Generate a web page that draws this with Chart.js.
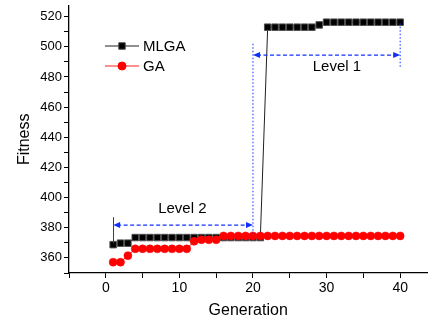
<!DOCTYPE html>
<html>
<head>
<meta charset="utf-8">
<script src="https://cdn.jsdelivr.net/npm/chart.js@4/dist/chart.umd.min.js"></script>
<style>
  html, body { margin: 0; padding: 0; background: #fff; }
</style>
</head>
<body>
<canvas id="myChart" width="433" height="322"></canvas>
<script>
// data
const generations = [1, 2, 3, 4, 5, 6, 7, 8, 9, 10, 11, 12, 13, 14, 15, 16, 17, 18, 19, 20,
  21, 22, 23, 24, 25, 26, 27, 28, 29, 30, 31, 32, 33, 34, 35, 36, 37, 38, 39, 40];
const mlga = [368.8, 369.8, 369.8, 373.5, 373.5, 373.5, 373.5, 373.5, 373.5, 373.5,
  373.5, 373.5, 373.5, 373.5, 373.5, 373.5, 373.5, 373.5, 373.5, 373.5,
  373.5, 513, 513, 513, 513, 513, 513, 513, 514.5, 516.3,
  516.3, 516.3, 516.3, 516.3, 516.3, 516.3, 516.3, 516.3, 516.3, 516.3];
const ga = [357.2, 357.2, 361.5, 366, 366, 366, 366, 366, 366, 366,
  366, 371, 372, 372, 372, 374.6, 374.6, 374.6, 374.6, 374.6,
  374.6, 374.6, 374.6, 374.6, 374.6, 374.6, 374.6, 374.6, 374.6, 374.6,
  374.6, 374.6, 374.6, 374.6, 374.6, 374.6, 374.6, 374.6, 374.6, 374.6];
const xTicks = [-5, 0, 5, 10, 15, 20, 25, 30, 35, 40];
const yTicks = [350, 360, 370, 380, 390, 400, 410, 420, 430, 440, 450, 460, 470, 480, 490, 500, 510, 520];

// annotation spots (data coords)
const level1 = { from: 20, to: 40, y: 494.5, label: "Level 1", labelX: 31.4, labelY: 487 };
const level2 = { from: 1, to: 20, y: 381.8, label: "Level 2", labelX: 10.4, labelY: 392.4 };

const FONT = "'Liberation Sans', Arial, sans-serif";
const BLUE = "#1030ff";

function arrowHead(ctx, x, y, dir) {
  ctx.beginPath();
  ctx.moveTo(x, y);
  ctx.lineTo(x - dir * 7, y - 3);
  ctx.lineTo(x - dir * 7, y + 3);
  ctx.closePath();
  ctx.fill();
}

function legendMark(ctx, ds, x, y) {
  ctx.fillStyle = ds.pointBackgroundColor;
  ctx.strokeStyle = ds.pointBorderColor;
  ctx.lineWidth = 1;
  Chart.helpers.drawPoint(ctx, { pointStyle: ds.pointStyle, radius: ds.pointRadius, borderWidth: 1 }, x, y);
}

const annotations = {
  id: "annotations",
  afterDatasetsDraw(chart) {
    const ctx = chart.ctx;
    const xs = chart.scales.x, ys = chart.scales.y;
    ctx.save();
    ctx.strokeStyle = BLUE;
    ctx.fillStyle = BLUE;

    // dotted verticals
    ctx.lineWidth = 1;
    ctx.setLineDash([1.5, 2]);
    ctx.beginPath();
    ctx.moveTo(xs.getPixelForValue(20), ys.getPixelForValue(502));
    ctx.lineTo(xs.getPixelForValue(20), ys.getPixelForValue(376));
    ctx.moveTo(xs.getPixelForValue(40), ys.getPixelForValue(515.6));
    ctx.lineTo(xs.getPixelForValue(40), ys.getPixelForValue(486));
    ctx.stroke();

    // solid vertical at level 2 start
    ctx.setLineDash([]);
    ctx.beginPath();
    ctx.moveTo(xs.getPixelForValue(1.05), ys.getPixelForValue(387));
    ctx.lineTo(xs.getPixelForValue(1.05), ys.getPixelForValue(369.5));
    ctx.stroke();

    // dashed double arrows
    [level1, level2].forEach((lv) => {
      const x1 = xs.getPixelForValue(lv.from);
      const x2 = xs.getPixelForValue(lv.to);
      const y = ys.getPixelForValue(lv.y);
      ctx.strokeStyle = BLUE;
      ctx.fillStyle = BLUE;
      ctx.setLineDash([4, 2.5]);
      ctx.lineWidth = 1.2;
      ctx.beginPath();
      ctx.moveTo(x1 + 4, y);
      ctx.lineTo(x2 - 4, y);
      ctx.stroke();
      ctx.setLineDash([]);
      arrowHead(ctx, x1, y, -1);
      arrowHead(ctx, x2, y, 1);

      ctx.fillStyle = "#000";
      ctx.font = "15px " + FONT;
      ctx.textAlign = "center";
      ctx.textBaseline = "middle";
      ctx.fillText(lv.label, xs.getPixelForValue(lv.labelX), ys.getPixelForValue(lv.labelY));
    });

    // legend inside the plot
    const items = [
      { text: "MLGA", ds: chart.data.datasets[1], y: 46 },
      { text: "GA", ds: chart.data.datasets[0], y: 66 },
    ];
    items.forEach((it) => {
      const lx = 105, len = 34;
      ctx.strokeStyle = it.ds.borderColor;
      ctx.lineWidth = 1.2;
      ctx.beginPath();
      ctx.moveTo(lx, it.y);
      ctx.lineTo(lx + len, it.y);
      ctx.stroke();
      legendMark(ctx, it.ds, lx + len / 2, it.y);
      ctx.fillStyle = "#000";
      ctx.font = "15px " + FONT;
      ctx.textAlign = "left";
      ctx.textBaseline = "middle";
      ctx.fillText(it.text, lx + len + 4, it.y + 1);
    });
    ctx.restore();
  },
};

const ctx = document.getElementById("myChart").getContext("2d");
const myChart = new Chart(ctx, {
  type: "line",
  data: {
    labels: generations,
    datasets: [
      {
        label: "GA",
        data: generations.map((g, i) => ({ x: g, y: ga[i] })),
        borderColor: "#ff2020",
        borderWidth: 1,
        pointStyle: "circle",
        pointRadius: 4,
        pointBackgroundColor: "#ff0000",
        pointBorderColor: "#ff0000",
        pointBorderWidth: 0.5,
        order: 0,
      },
      {
        label: "MLGA",
        data: generations.map((g, i) => ({ x: g, y: mlga[i] })),
        borderColor: "#202020",
        borderWidth: 1,
        pointStyle: "rect",
        pointRadius: 4.6,
        pointBackgroundColor: "#000000",
        pointBorderColor: "#505050",
        pointBorderWidth: 1,
        order: 1,
      },
    ],
  },
  options: {
    responsive: false,
    animation: false,
    devicePixelRatio: 1,
    layout: { padding: 0 },
    plugins: { legend: { display: false }, tooltip: { enabled: false } },
    scales: {
      x: {
        type: "linear",
        min: -5,
        max: 43.7,
        afterFit: (s) => { s.height = 49; s.paddingLeft = 0; s.paddingRight = 0; },
        afterBuildTicks: (s) => { s.ticks = xTicks.map((v) => ({ value: v })); },
        border: { color: "#000", width: 1.3 },
        grid: { drawOnChartArea: false, tickLength: 5, tickColor: "#000" },
        ticks: {
          autoSkip: false,
          color: "#000",
          font: { family: FONT, size: 14 },
          padding: 2,
          maxRotation: 0,
          callback: (v) => (v % 10 === 0 && v >= 0 ? v : ""),
        },
        title: {
          display: true,
          text: "Generation",
          color: "#000",
          font: { family: FONT, size: 16 },
          padding: { top: 0, bottom: 2 },
        },
      },
      y: {
        min: 350,
        max: 527.3,
        afterFit: (s) => { s.width = 69; s.paddingTop = 0; s.paddingBottom = 0; },
        afterBuildTicks: (s) => { s.ticks = yTicks.map((v) => ({ value: v })); },
        border: { color: "#000", width: 1.3 },
        grid: { drawOnChartArea: false, tickLength: 5, tickColor: "#000" },
        ticks: {
          autoSkip: false,
          color: "#000",
          font: { family: FONT, size: 13 },
          padding: 2,
          callback: (v) => (v % 20 === 0 && v >= 360 && v <= 520 ? v : ""),
        },
        title: {
          display: true,
          text: "Fitness",
          color: "#000",
          font: { family: FONT, size: 16 },
          padding: { top: 15, bottom: 0 },
        },
      },
    },
  },
  plugins: [annotations],
});
</script>
</body>
</html>
